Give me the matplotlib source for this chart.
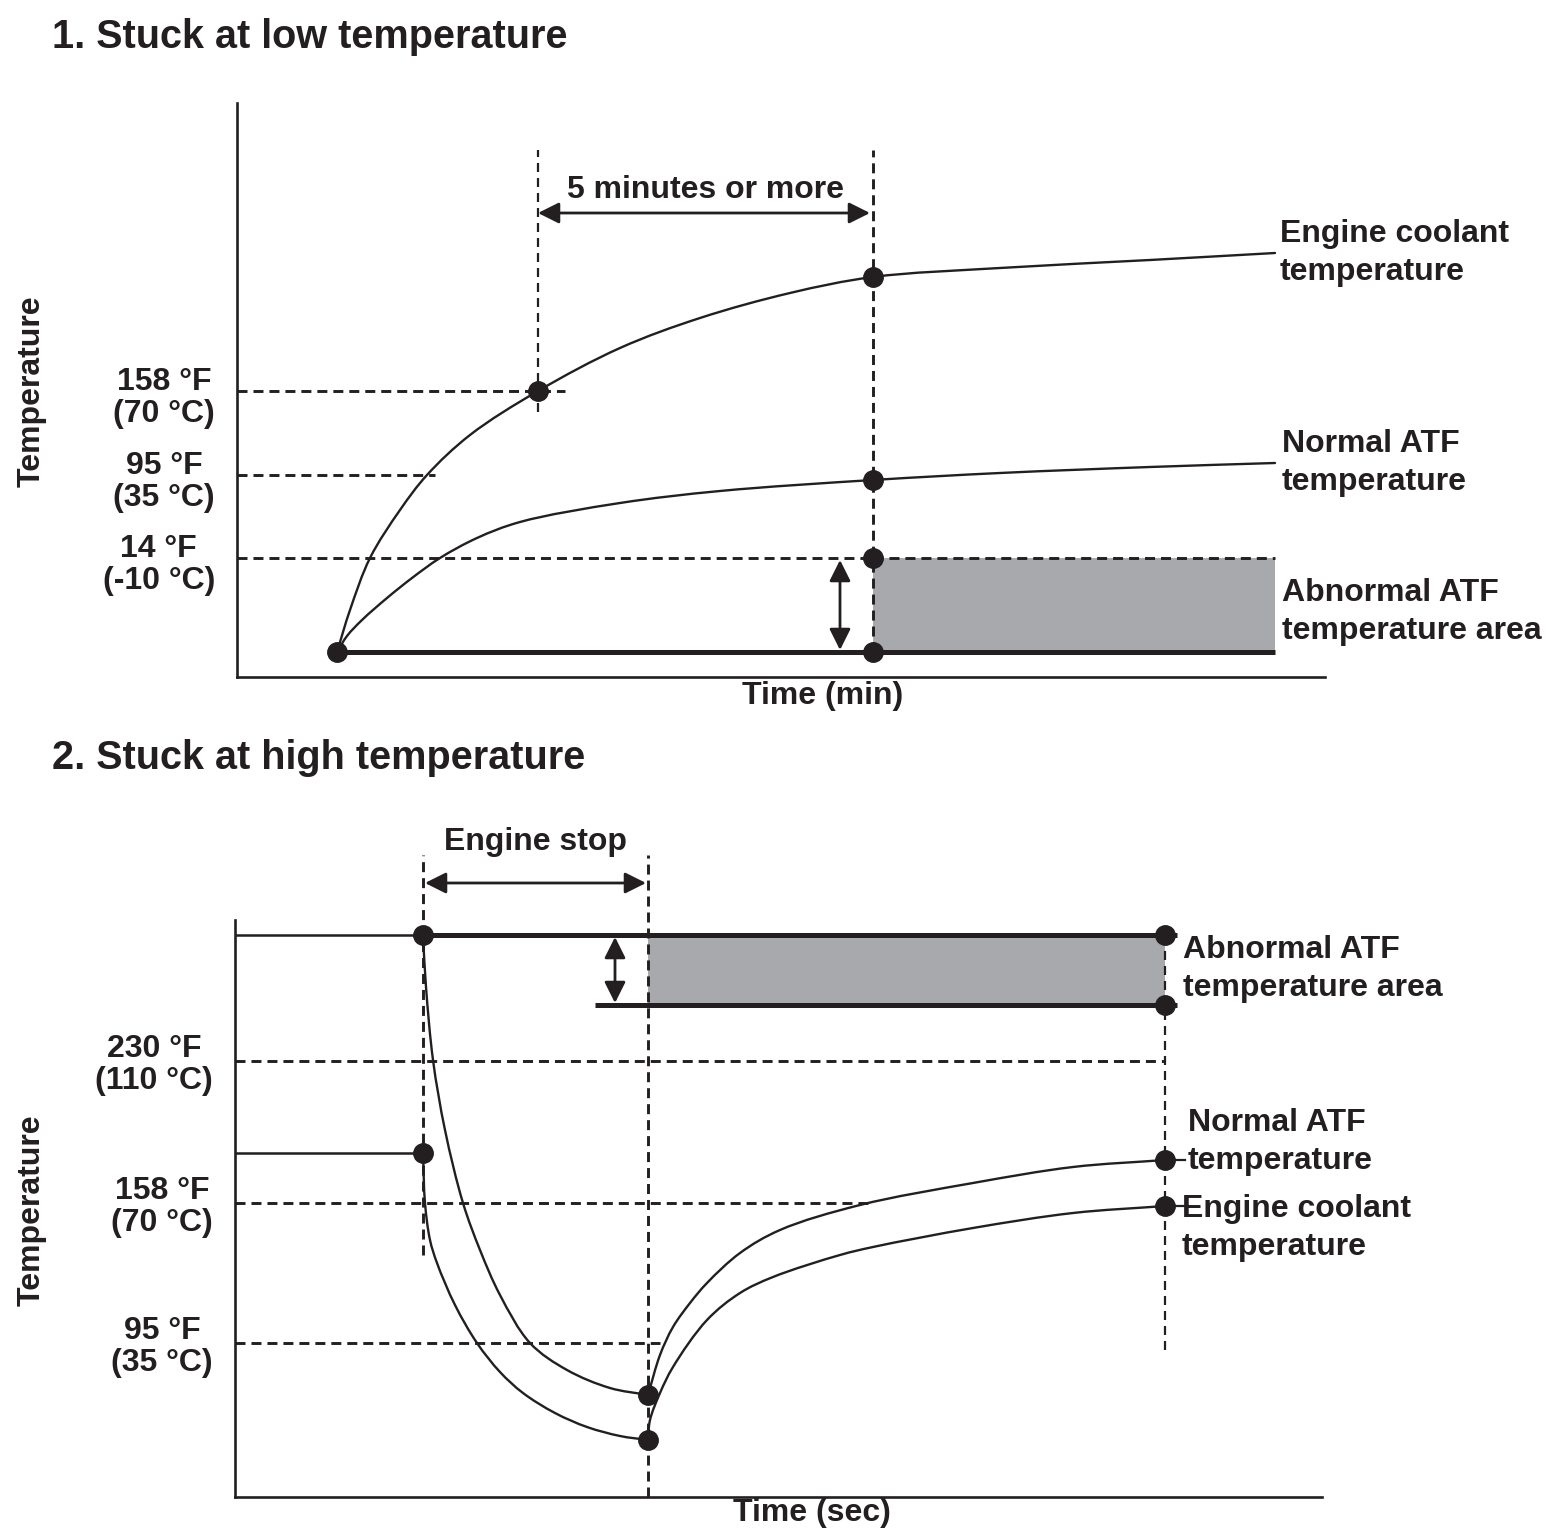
import matplotlib
matplotlib.use("Agg")
import matplotlib.pyplot as plt
from matplotlib.path import Path
from matplotlib.patches import PathPatch
import numpy as np

plt.rcParams['font.family'] = ['Liberation Sans', 'DejaVu Sans']
plt.rcParams['font.weight'] = 'bold'
plt.rcParams['lines.scale_dashes'] = False

INK = '#231f20'
GRAY = '#a7a9ac'

# ---------------- Panel 1 data (schematic units: time, temperature) ----------------
p1_ect_t = [100, 113, 133, 163, 190, 233, 301, 383, 463, 553, 636, 763, 913, 1038]
p1_ect_T = [25, 67, 119, 167, 202, 242, 286, 329, 359, 384, 400, 409, 417, 424]
p1_atf_t = [100, 110, 125, 150, 175, 203, 240, 283, 383, 483, 636, 763, 913, 1038]
p1_atf_T = [25, 41, 57, 79, 99, 119, 139, 155, 174, 186, 197, 204, 210, 214]
p1_levels = [286, 202, 119]            # 158F, 95F, 14F
p1_level_labels = ['158 \u00b0F\n(70 \u00b0C)', '95 \u00b0F\n(35 \u00b0C)', '14 \u00b0F\n(-10 \u00b0C)']
p1_level_ends = [328, 198, 636]
p1_base = 25
p1_t_start, p1_t_158, p1_t_5min, p1_t_end = 100, 301, 636, 1038

# ---------------- Panel 2 data ----------------
p2_ect_fall_t = [188, 191, 198, 210, 228, 245, 265, 295, 332, 375, 413]
p2_ect_fall_T = [562, 510, 437, 367, 294, 247, 202, 154, 127, 109, 102]
p2_atf_fall_t = [188, 190, 195, 202, 220, 242, 265, 288, 320, 352, 385, 413]
p2_atf_fall_T = [344, 294, 257, 234, 192, 154, 125, 104, 84, 70, 61, 57]
p2_rise_a_t = [413, 425, 438, 455, 472, 505, 545, 625, 738, 838, 930]
p2_rise_a_T = [102, 142, 170, 194, 214, 244, 267, 292, 314, 330, 337]
p2_rise_b_t = [413, 415, 425, 438, 472, 505, 538, 605, 638, 738, 838, 930]
p2_rise_b_T = [57, 77, 104, 130, 177, 204, 220, 242, 250, 269, 284, 291]
p2_abn_top, p2_abn_bottom = 562, 492
p2_levels = [436, 294, 154]           # 230F, 158F, 95F
p2_level_labels = ['230 \u00b0F\n(110 \u00b0C)', '158 \u00b0F\n(70 \u00b0C)', '95 \u00b0F\n(35 \u00b0C)']
p2_level_ends = [930, 635, 425]
p2_t_stop, p2_t_restart, p2_t_end = 188, 413, 930
p2_abn_start, p2_line_end = 360, 942

W, H = 1560, 1537
fig = plt.figure(figsize=(W / 100, H / 100), dpi=100)


def make_ax(x0, x1, ytop, ybot):
    ax = fig.add_axes([x0 / W, 1 - ybot / H, (x1 - x0) / W, (ybot - ytop) / H])
    ax.set_xlim(0, x1 - x0)
    ax.set_ylim(0, ybot - ytop)
    for s in ['top', 'right']:
        ax.spines[s].set_visible(False)
    for s in ['left', 'bottom']:
        ax.spines[s].set_linewidth(1.9)
        ax.spines[s].set_color(INK)
    ax.set_xticks([])
    ax.set_yticks([])
    ax.patch.set_alpha(0)
    return ax


DASH = dict(color=INK, lw=2.1, dashes=[7.2, 4.3], clip_on=False)
DASHV = dict(color=INK, lw=1.6, dashes=[6.5, 4.3], clip_on=False)
DOT = dict(marker='o', ms=14, color=INK, ls='none', clip_on=False, zorder=6)
FS = 23
TXT = dict(fontsize=FS, color=INK, linespacing=1.32)
TICK = dict(fontsize=FS, color=INK, linespacing=1.08)


def smooth_curve(ax, xs, ys, lw=1.7, alpha=0.5):
    """Draw a smooth line through the read points (centripetal Catmull-Rom as Bezier)."""
    P = np.column_stack([xs, ys]).astype(float)
    n = len(P)
    verts = [tuple(P[0])]
    codes = [Path.MOVETO]
    for i in range(n - 1):
        p1, p2 = P[i], P[i + 1]
        p0 = P[i - 1] if i > 0 else None
        p3 = P[i + 2] if i + 2 < n else None
        d2 = np.linalg.norm(p2 - p1) ** alpha
        if p0 is None:
            b1 = p1 + (p2 - p1) / 3.0
        else:
            d1 = np.linalg.norm(p1 - p0) ** alpha
            b1 = (d1 ** 2 * p2 - d2 ** 2 * p0 + (2 * d1 ** 2 + 3 * d1 * d2 + d2 ** 2) * p1) / (3 * d1 * (d1 + d2))
        if p3 is None:
            b2 = p2 - (p2 - p1) / 3.0
        else:
            d3 = np.linalg.norm(p3 - p2) ** alpha
            b2 = (d3 ** 2 * p1 - d2 ** 2 * p3 + (2 * d3 ** 2 + 3 * d3 * d2 + d2 ** 2) * p2) / (3 * d3 * (d3 + d2))
        verts += [tuple(b1), tuple(b2), tuple(p2)]
        codes += [Path.CURVE4] * 3
    ax.add_patch(PathPatch(Path(verts, codes), fill=False, edgecolor=INK, lw=lw,
                           clip_on=False, zorder=3, capstyle='round', joinstyle='round'))


def darrow(ax, p0, p1, style='<|-|>'):
    ax.annotate('', xy=p1, xytext=p0,
                arrowprops=dict(arrowstyle=style, color=INK, lw=2.0,
                                mutation_scale=32, shrinkA=0, shrinkB=0),
                annotation_clip=False)


# ================= Panel 1 =================
ax1 = make_ax(237, 1325, 103, 677)

ax1.fill_between([p1_t_5min, p1_t_end], p1_base, p1_levels[2], color=GRAY, lw=0, zorder=1)
for lvl, end in zip(p1_levels, p1_level_ends):
    ax1.plot([0, end], [lvl, lvl], **DASH)
ax1.plot([p1_t_5min, p1_t_end], [p1_levels[2], p1_levels[2]], **DASH)
ax1.plot([p1_t_158, p1_t_158], [p1_levels[0] - 21, 527], **DASHV)
ax1.plot([p1_t_5min, p1_t_5min], [p1_base, 527], **DASH)
ax1.plot([p1_t_start, p1_t_end], [p1_base, p1_base], color=INK, lw=3.6, solid_capstyle='butt', zorder=4)
smooth_curve(ax1, p1_ect_t, p1_ect_T)
smooth_curve(ax1, p1_atf_t, p1_atf_T)
ax1.plot([p1_t_start, p1_t_158, p1_t_5min, p1_t_5min, p1_t_5min, p1_t_5min],
         [p1_base, p1_levels[0], p1_ect_T[p1_ect_t.index(p1_t_5min)],
          p1_atf_T[p1_atf_t.index(p1_t_5min)], p1_levels[2], p1_base], **DOT)
darrow(ax1, (p1_t_158, 464), (p1_t_5min - 3, 464))
darrow(ax1, (603, p1_base + 2), (603, p1_levels[2] - 2))
ax1.text((p1_t_158 + p1_t_5min) / 2, 487, '5 minutes or more', ha='center', va='center', **TXT)
for lvl, lab in zip(p1_levels, p1_level_labels):
    ax1.text(-22, lvl - 7, lab, ha='right', va='center', multialignment='center', **TICK)
ax1.text(1043, p1_ect_T[-1], 'Engine coolant\ntemperature', ha='left', va='center', **TXT)
ax1.text(1045, p1_atf_T[-1], 'Normal ATF\ntemperature', ha='left', va='center', **TXT)
ax1.text(1045, 65, 'Abnormal ATF\ntemperature area', ha='left', va='center', **TXT)
ax1.text(586, -19, 'Time (min)', ha='center', va='center', **TXT)
ax1.text(-205, 286, 'Temperature', ha='center', va='center', rotation=90, **TXT)

# ================= Panel 2 =================
ax2 = make_ax(235, 1322, 920, 1497)

ax2.fill_between([p2_t_restart, p2_t_end], p2_abn_bottom, p2_abn_top, color=GRAY, lw=0, zorder=1)
for lvl, end in zip(p2_levels, p2_level_ends):
    ax2.plot([0, end], [lvl, lvl], **DASH)
ax2.plot([p2_t_stop, p2_t_stop], [242, 642], **DASH)
ax2.plot([p2_t_restart, p2_t_restart], [0, 642], **DASH)
ax2.plot([p2_t_end, p2_t_end], [147, p2_abn_top], **DASHV)
ax2.plot([0, p2_t_stop], [p2_abn_top, p2_abn_top], color=INK, lw=1.8, zorder=4)
ax2.plot([p2_t_stop, p2_line_end], [p2_abn_top, p2_abn_top], color=INK, lw=3.6,
         solid_capstyle='butt', zorder=4)
ax2.plot([p2_abn_start, p2_line_end], [p2_abn_bottom, p2_abn_bottom], color=INK, lw=3.6,
         solid_capstyle='butt', zorder=4)
ax2.plot([0, p2_t_stop], [p2_atf_fall_T[0], p2_atf_fall_T[0]], color=INK, lw=1.8)
smooth_curve(ax2, p2_ect_fall_t, p2_ect_fall_T)
smooth_curve(ax2, p2_atf_fall_t, p2_atf_fall_T)
smooth_curve(ax2, p2_rise_a_t, p2_rise_a_T)
smooth_curve(ax2, p2_rise_b_t, p2_rise_b_T)
ax2.plot([p2_t_end, p2_line_end + 8], [p2_rise_a_T[-1]] * 2, color=INK, lw=1.6, clip_on=False)
ax2.plot([p2_t_end, p2_line_end + 8], [p2_rise_b_T[-1]] * 2, color=INK, lw=1.6, clip_on=False)
ax2.plot([p2_t_stop, p2_t_stop, p2_t_restart, p2_t_restart, p2_t_end, p2_t_end, p2_t_end, p2_t_end],
         [p2_abn_top, p2_atf_fall_T[0], p2_ect_fall_T[-1], p2_atf_fall_T[-1],
          p2_abn_top, p2_abn_bottom, p2_rise_a_T[-1], p2_rise_b_T[-1]], **DOT)
darrow(ax2, (p2_t_stop + 2, 614), (p2_t_restart - 2, 614))
darrow(ax2, (380, p2_abn_bottom + 2), (380, p2_abn_top - 2))
ax2.text((p2_t_stop + p2_t_restart) / 2, 655, 'Engine stop', ha='center', va='center', **TXT)
for lvl, lab in zip(p2_levels, p2_level_labels):
    ax2.text(-22, lvl - 4, lab, ha='right', va='center', multialignment='center', **TICK)
ax2.text(948, 528, 'Abnormal ATF\ntemperature area', ha='left', va='center', **TXT)
ax2.text(953, 355, 'Normal ATF\ntemperature', ha='left', va='center', **TXT)
ax2.text(947, 269, 'Engine coolant\ntemperature', ha='left', va='center', **TXT)
ax2.text(577, -16, 'Time (sec)', ha='center', va='center', **TXT)
ax2.text(-203, 287, 'Temperature', ha='center', va='center', rotation=90, **TXT)

fig.text(52 / W, 1 - 37 / H, '1. Stuck at low temperature', ha='left', va='center',
         fontsize=28.5, color=INK)
fig.text(52 / W, 1 - 758 / H, '2. Stuck at high temperature', ha='left', va='center',
         fontsize=28.5, color=INK)

fig.savefig('out.png', dpi=100, facecolor='white')
